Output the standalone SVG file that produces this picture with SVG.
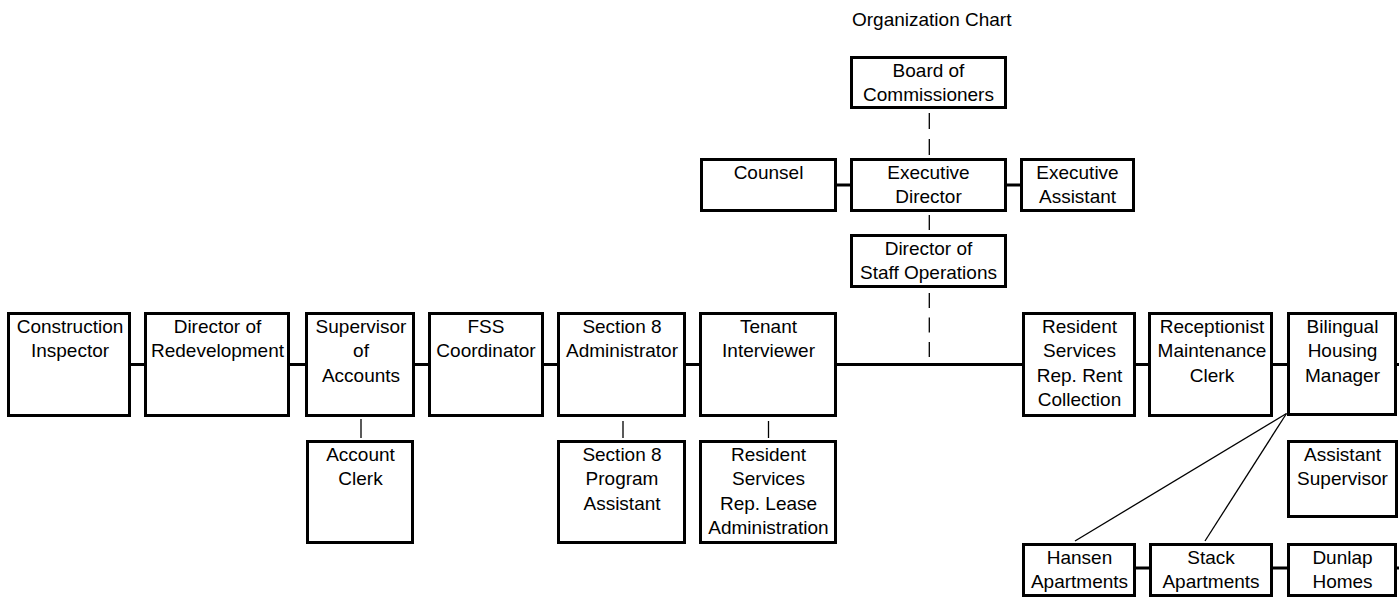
<svg xmlns="http://www.w3.org/2000/svg" width="1399" height="598" viewBox="0 0 1399 598">
<style>
.box{fill:#fff;stroke:#000;stroke-width:3}
.t{font-family:"Liberation Sans",Arial,sans-serif;font-size:19px;fill:#000;text-anchor:middle}
.title{font-family:"Liberation Sans",Arial,sans-serif;font-size:19px;fill:#000}
.thick{stroke:#000;stroke-width:3;fill:none}
.thin{stroke:#000;stroke-width:1.3;fill:none}
.dash{stroke:#000;stroke-width:1.3;fill:none;stroke-dasharray:16 10}
</style>
<rect width="1399" height="598" fill="#fff"/>
<text class="title" x="852" y="26">Organization Chart</text>
<g id="connectors">
<line class="dash" x1="929.3" y1="113" x2="929.3" y2="155"/>
<line class="thin" x1="929.3" y1="215" x2="929.3" y2="230"/>
<line class="dash" x1="929.3" y1="293" x2="929.3" y2="363" style="stroke-dasharray:15 9.5"/>
<line class="thick" x1="837" y1="185" x2="850" y2="185"/>
<line class="thick" x1="1007" y1="185" x2="1020" y2="185"/>
<line class="thick" x1="131" y1="364.5" x2="1399" y2="364.5"/>
<line class="thick" x1="1136" y1="568" x2="1399" y2="568"/>
<line class="thin" x1="361" y1="419" x2="361" y2="438"/>
<line class="thin" x1="623" y1="421" x2="623" y2="438"/>
<line class="thin" x1="768.5" y1="421" x2="768.5" y2="438"/>
<line class="thin" x1="1286.5" y1="413.5" x2="1075" y2="541"/>
<line class="thin" x1="1286.5" y1="413.5" x2="1205" y2="541"/>
</g>
<g id="board"><rect class="box" x="851.5" y="57.5" width="154" height="50"/><text class="t" x="928.5" y="76.5">Board of<tspan x="928.5" dy="24.5">Commissioners</tspan></text></g>
<g id="counsel"><rect class="box" x="701.5" y="159.5" width="134" height="51"/><text class="t" x="768.5" y="178.5">Counsel</text></g>
<g id="exec-director"><rect class="box" x="851.5" y="159.5" width="154" height="51"/><text class="t" x="928.5" y="178.5">Executive<tspan x="928.5" dy="24.5">Director</tspan></text></g>
<g id="exec-assistant"><rect class="box" x="1021.5" y="159.5" width="112" height="51"/><text class="t" x="1077.5" y="178.5">Executive<tspan x="1077.5" dy="24.5">Assistant</tspan></text></g>
<g id="staff-ops"><rect class="box" x="851.5" y="235.5" width="154" height="51"/><text class="t" x="928.5" y="254.5">Director of<tspan x="928.5" dy="24.5">Staff Operations</tspan></text></g>
<g id="construction"><rect class="box" x="8.5" y="313.5" width="121" height="102"/><text class="t" x="70" y="332.5">Construction<tspan x="70" dy="24.5">Inspector</tspan></text></g>
<g id="redevelopment"><rect class="box" x="145.5" y="313.5" width="143" height="102"/><text class="t" x="217.5" y="332.5">Director of<tspan x="217.5" dy="24.5">Redevelopment</tspan></text></g>
<g id="supervisor-accounts"><rect class="box" x="306.5" y="313.5" width="107" height="102"/><text class="t" x="361" y="332.5">Supervisor<tspan x="361" dy="24.5">of</tspan><tspan x="361" dy="24.5">Accounts</tspan></text></g>
<g id="fss"><rect class="box" x="429.5" y="313.5" width="113" height="102"/><text class="t" x="486" y="332.5">FSS<tspan x="486" dy="24.5">Coordinator</tspan></text></g>
<g id="s8-admin"><rect class="box" x="558.5" y="313.5" width="126" height="102"/><text class="t" x="622" y="332.5">Section 8<tspan x="622" dy="24.5">Administrator</tspan></text></g>
<g id="tenant"><rect class="box" x="700.5" y="313.5" width="135" height="102"/><text class="t" x="768.5" y="332.5">Tenant<tspan x="768.5" dy="24.5">Interviewer</tspan></text></g>
<g id="rent-collection"><rect class="box" x="1023.5" y="313.5" width="111" height="102"/><text class="t" x="1079.5" y="332.5">Resident<tspan x="1079.5" dy="24.5">Services</tspan><tspan x="1079.5" dy="24.5">Rep. Rent</tspan><tspan x="1079.5" dy="24.5">Collection</tspan></text></g>
<g id="receptionist"><rect class="box" x="1149.5" y="313.5" width="122" height="102"/><text class="t" x="1212" y="332.5">Receptionist<tspan x="1212" dy="24.5">Maintenance</tspan><tspan x="1212" dy="24.5">Clerk</tspan></text></g>
<g id="bilingual"><rect class="box" x="1288.5" y="313.5" width="107" height="101"/><text class="t" x="1342.5" y="332.5">Bilingual<tspan x="1342.5" dy="24.5">Housing</tspan><tspan x="1342.5" dy="24.5">Manager</tspan></text></g>
<g id="account-clerk"><rect class="box" x="307.5" y="441.5" width="105" height="101"/><text class="t" x="360.5" y="460.5">Account<tspan x="360.5" dy="24.5">Clerk</tspan></text></g>
<g id="s8-program"><rect class="box" x="558.5" y="441.5" width="126" height="101"/><text class="t" x="622" y="460.5">Section 8<tspan x="622" dy="24.5">Program</tspan><tspan x="622" dy="24.5">Assistant</tspan></text></g>
<g id="lease-admin"><rect class="box" x="700.5" y="441.5" width="135" height="101"/><text class="t" x="768.5" y="460.5">Resident<tspan x="768.5" dy="24.5">Services</tspan><tspan x="768.5" dy="24.5">Rep. Lease</tspan><tspan x="768.5" dy="24.5">Administration</tspan></text></g>
<g id="assistant-supervisor"><rect class="box" x="1288.5" y="441.5" width="108" height="75"/><text class="t" x="1342.5" y="460.5">Assistant<tspan x="1342.5" dy="24.5">Supervisor</tspan></text></g>
<g id="hansen"><rect class="box" x="1023.5" y="544.5" width="111" height="51"/><text class="t" x="1079.5" y="563.5">Hansen<tspan x="1079.5" dy="24.5">Apartments</tspan></text></g>
<g id="stack"><rect class="box" x="1150.5" y="544.5" width="121" height="51"/><text class="t" x="1211" y="563.5">Stack<tspan x="1211" dy="24.5">Apartments</tspan></text></g>
<g id="dunlap"><rect class="box" x="1288.5" y="544.5" width="107" height="51"/><text class="t" x="1342.5" y="563.5">Dunlap<tspan x="1342.5" dy="24.5">Homes</tspan></text></g>
</svg>
